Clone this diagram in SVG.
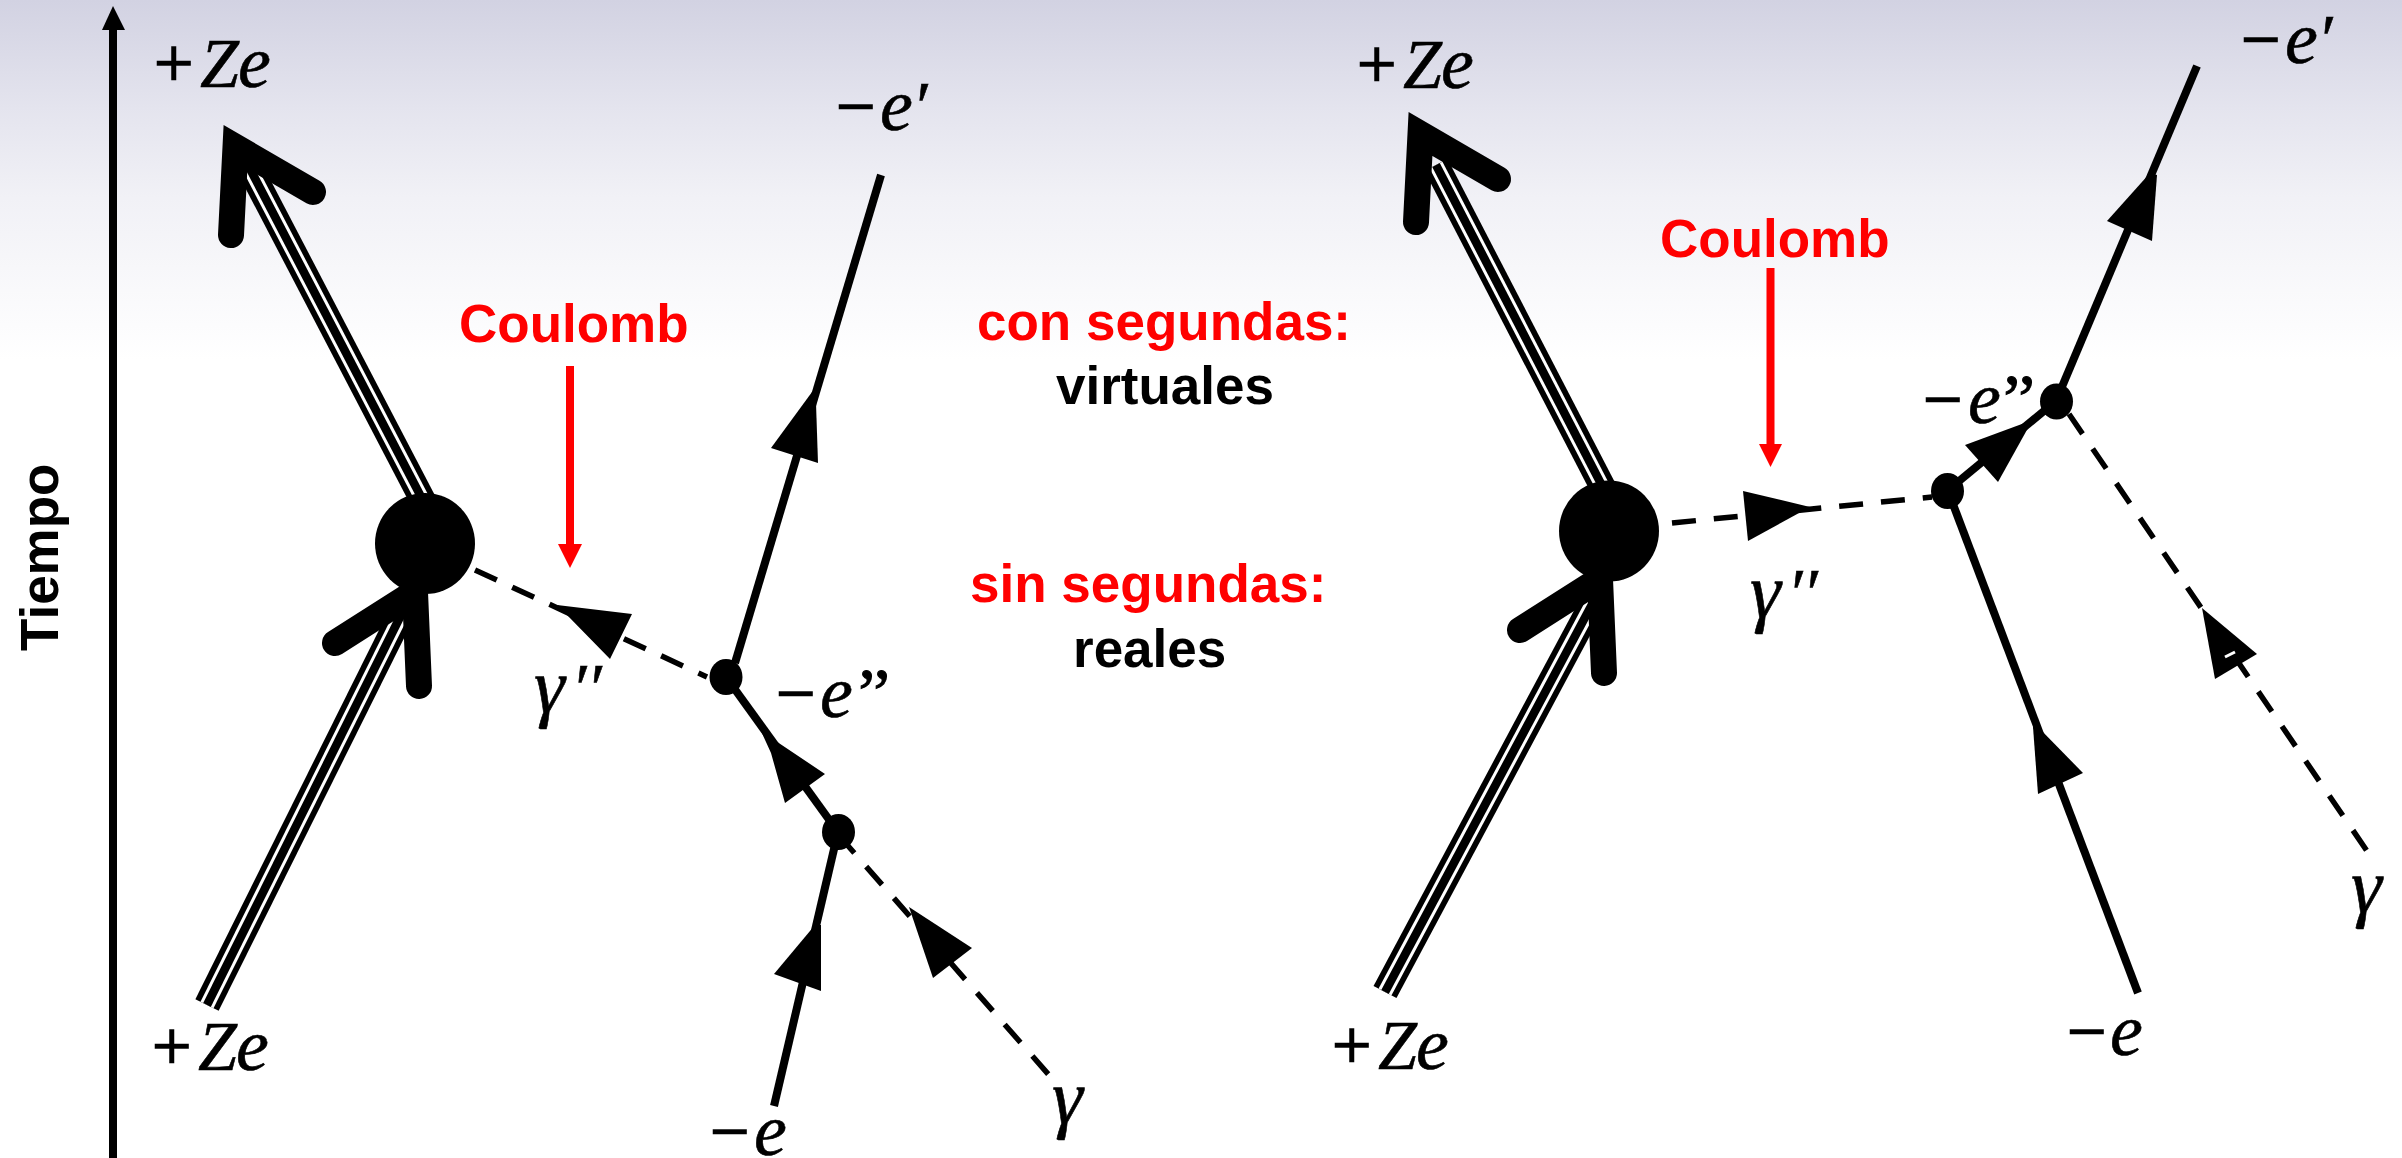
<svg xmlns="http://www.w3.org/2000/svg" width="2402" height="1158" viewBox="0 0 2402 1158">
<style>
.s{fill:none;stroke:#000;stroke-width:8}
.d{fill:none;stroke:#000;stroke-width:5.5;stroke-dasharray:24 18}
.n{fill:#000}
.a{fill:none;stroke:#000;stroke-width:26;stroke-linecap:round;stroke-linejoin:miter;stroke-miterlimit:10}
.t1{fill:none;stroke:#000;stroke-width:26}
.t2{fill:none;stroke:#fff;stroke-width:14.5}
.t3{fill:none;stroke:#000;stroke-width:8.5}
.r{fill:none;stroke:#f00;stroke-width:8}
.rh{fill:#f00}
.m{font-family:"Liberation Serif",serif;font-size:70px;fill:#000}
.i{font-style:italic;stroke:#000;stroke-width:.6}
.e{font-size:74px}
.g{font-size:78px}
.o{stroke:#000;stroke-width:1.5}
.q{letter-spacing:-3px;stroke:#000;stroke-width:1}
.b{font-family:"Liberation Sans",Arial,sans-serif;font-weight:700;font-size:53px}
.red{fill:#f00}
.blk{fill:#000}
</style>
<defs>
<linearGradient id="bg" x1="0" y1="0" x2="0" y2="1"><stop offset="0" stop-color="#d2d2e2"/><stop offset=".3" stop-color="#e4e4ee"/><stop offset=".55" stop-color="#f1f1f6"/><stop offset="1" stop-color="#fff"/></linearGradient>
<path id="tl1" d="M248,165 L430,514"/>
<path id="tl2" d="M207,1005 L410,597"/>
<path id="tr1" d="M1436,165 L1612,505"/>
<path id="tr2" d="M1385,992 L1597,595"/>
</defs>
<rect width="2402" height="1158" fill="#fff"/>
<rect width="2402" height="360" fill="url(#bg)"/>

<g id="connectors">
  <g id="time-axis"><path class="s" d="M113,28 V1158"/><polygon class="n" points="113,6 125,30 102,30"/></g>

  <use href="#tl1" class="t1"/><use href="#tl1" class="t2"/><use href="#tl1" class="t3"/>
  <use href="#tl2" class="t1"/><use href="#tl2" class="t2"/><use href="#tl2" class="t3"/>
  <polyline class="a" points="231,235 235.5,147 313,192"/>
  <polyline class="a" points="335,643 415,592 419,686"/>

  <path class="d" d="M475,570 L707,677" style="stroke-dasharray:24 17"/>
  <polygon class="n" points="557,605 632,614 610,659 567,615"/>
  <path class="s" d="M881,175 L735,663"/>
  <polygon class="n" points="812,392 816,403 818,463 771,448"/>
  <path class="s" d="M726,677 L838,832"/>
  <polygon class="n" points="761,731 825,774 785,803 771,753"/>
  <path class="s" d="M774,1106 L838,832"/>
  <polygon class="n" points="815,925 821,925 821,991 774,974"/>
  <path class="d" d="M838.5,835 L1049,1075"/>
  <polygon class="n" points="909,907 972,948 933,978"/>

  <use href="#tr1" class="t1"/><use href="#tr1" class="t2"/><use href="#tr1" class="t3"/>
  <use href="#tr2" class="t1"/><use href="#tr2" class="t2"/><use href="#tr2" class="t3"/>
  <polyline class="a" points="1416,222 1420.5,134 1498,179"/>
  <polyline class="a" points="1520,630 1600,579 1604,673"/>

  <path class="d" d="M1672,523 L1932,497"/>
  <polygon class="n" points="1743,491 1810,507 1748,541"/>
  <path class="s" d="M2197,66 L2056,401"/>
  <polygon class="n" points="2150,173 2157,175 2152,241 2107,221"/>
  <path class="s" d="M1947,491 L2056,401"/>
  <polygon class="n" points="1965,445 2030,421 2028,428 1998,482"/>
  <path class="s" d="M1948,491 L2138,993"/>
  <polygon class="n" points="2033,727 2038,727 2083,773 2038,794"/>
  <path class="d" d="M2069,414 L2367,851"/>
  <polygon class="n" points="2202,608 2257,654 2215,679"/>
  <path d="M2225,657 L2235,652" fill="none" stroke="#fff" stroke-width="3"/>

  <g id="coulomb-arrow-left"><path class="r" d="M570,366 V546"/><polygon class="rh" points="558,544 582,544 570,568"/></g>
  <g id="coulomb-arrow-right"><path class="r" d="M1770.5,268 V446"/><polygon class="rh" points="1759,444 1782,444 1770.5,467"/></g>
</g>

<g id="node-nucleus-left"><ellipse class="n" cx="425" cy="543.5" rx="50" ry="50.5"/></g>
<g id="node-v1-left"><ellipse class="n" cx="726" cy="677" rx="16.5" ry="18"/></g>
<g id="node-v2-left"><ellipse class="n" cx="838.5" cy="832" rx="16.5" ry="18"/></g>
<g id="node-nucleus-right"><ellipse class="n" cx="1609" cy="531" rx="50" ry="50.5"/></g>
<g id="node-v1-right"><ellipse class="n" cx="1947.5" cy="491" rx="16.5" ry="18"/></g>
<g id="node-v2-right"><ellipse class="n" cx="2056.5" cy="401.5" rx="16.5" ry="18"/></g>

<g id="labels">
  <text class="b blk" transform="translate(58,651) rotate(-90)">Tiempo</text>
  <text class="b red" x="459" y="342">Coulomb</text>
  <text class="b red" x="1660" y="257">Coulomb</text>
  <text class="b red" x="977" y="340">con segundas:</text>
  <text class="b blk" x="1056" y="404">virtuales</text>
  <text class="b red" x="970" y="602">sin segundas:</text>
  <text class="b blk" x="1073" y="667">reales</text>

  <text class="m" y="87"><tspan class="o" x="154">+</tspan><tspan class="i" x="200">Z</tspan><tspan class="i e" x="238">e</tspan></text>
  <text class="m" y="88"><tspan class="o" x="1357">+</tspan><tspan class="i" x="1403">Z</tspan><tspan class="i e" x="1441">e</tspan></text>
  <text class="m" y="1070"><tspan class="o" x="152">+</tspan><tspan class="i" x="198">Z</tspan><tspan class="i e" x="236">e</tspan></text>
  <text class="m" y="1069"><tspan class="o" x="1332">+</tspan><tspan class="i" x="1378">Z</tspan><tspan class="i e" x="1416">e</tspan></text>
  <text class="m" y="130"><tspan class="o" x="836">−</tspan><tspan class="i e" x="880">e</tspan><tspan class="i" x="912">′</tspan></text>
  <text class="m" y="63"><tspan class="o" x="2241">−</tspan><tspan class="i e" x="2285">e</tspan><tspan class="i" x="2317">′</tspan></text>
  <text class="m" y="717"><tspan class="o" x="776">−</tspan><tspan class="i e" x="820">e</tspan><tspan class="q" x="855">’’</tspan></text>
  <text class="m" y="423"><tspan class="o" x="1923">−</tspan><tspan class="i e" x="1968">e</tspan><tspan class="q" x="2000">’’</tspan></text>
  <text class="m" y="1155"><tspan class="o" x="710">−</tspan><tspan class="i e" x="754">e</tspan></text>
  <text class="m" y="1055"><tspan class="o" x="2067">−</tspan><tspan class="i e" x="2110">e</tspan></text>
  <text class="m" y="712"><tspan class="i g" x="534">γ</tspan><tspan class="i" x="571">′′</tspan></text>
  <text class="m" y="617"><tspan class="i g" x="1750">γ</tspan><tspan class="i" x="1787">′′</tspan></text>
  <text class="m i g" x="1052" y="1123">γ</text>
  <text class="m i g" x="2351" y="912">γ</text>
</g>
</svg>
